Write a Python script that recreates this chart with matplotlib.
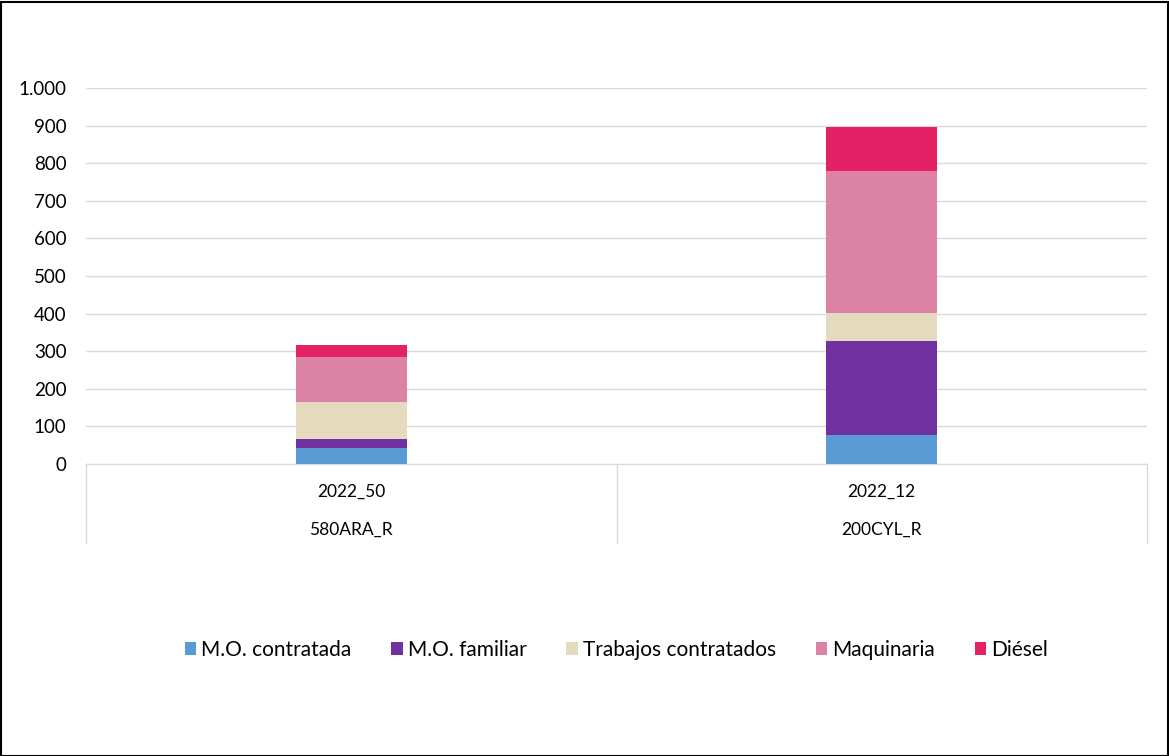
import matplotlib
matplotlib.use('Agg')
import matplotlib.pyplot as plt
from matplotlib.ticker import FuncFormatter
from matplotlib.patches import Rectangle
import numpy as np

plt.rcParams['font.family'] = ['Lato', 'DejaVu Sans']

years = ["2022_50", "2022_12"]
farms = ["580ARA_R", "200CYL_R"]
series = ["M.O. contratada", "M.O. familiar", "Trabajos contratados", "Maquinaria", "Diésel"]
colors = ["#5b9bd5", "#7030a0", "#e4dabd", "#dc82a4", "#e52166"]
mo_contratada = [42, 77]
mo_familiar = [24, 250]
trabajos = [100, 75]
maquinaria = [119, 377]
diesel = [31, 116]

values = [mo_contratada, mo_familiar, trabajos, maquinaria, diesel]

fig = plt.figure(figsize=(11.69, 7.56), dpi=100)
ax = fig.add_axes([86 / 1169, 1 - 464 / 756, (1147 - 86) / 1169, (464 - 88) / 756])

x = np.arange(len(farms))
bottom = np.zeros(len(farms))
for name, vals, c in zip(series, values, colors):
    ax.bar(x, vals, 0.21, bottom=bottom, color=c, label=name, zorder=3)
    bottom += np.array(vals)

ax.set_xlim(-0.5, 1.5)
ax.set_ylim(0, 1000)
ax.set_yticks(range(0, 1001, 100))
ax.yaxis.set_major_formatter(FuncFormatter(lambda v, p: f"{int(v):,}".replace(",", ".")))
ax.grid(axis='y', color='#d9d9d9', linewidth=1, zorder=0)
for s in ['top', 'right', 'left']:
    ax.spines[s].set_visible(False)
ax.spines['bottom'].set_color('#d9d9d9')
ax.tick_params(axis='y', length=0, pad=14, labelsize=13.5)
ax.tick_params(axis='x', length=0)
ax.set_xticks([])

# category label rows below axis
for i in range(len(farms)):
    ax.text(i, -75, years[i], ha='center', va='center', fontsize=12.5)
    ax.text(i, -175, farms[i], ha='center', va='center', fontsize=12.5)
for xs in [-0.5, 0.5, 1.5]:
    ax.plot([xs, xs], [0, -210], color='#d9d9d9', linewidth=1, clip_on=False)

ax.legend(loc='center', bbox_to_anchor=(0.5, 1 - (650 - 88) / (464 - 88)),
          ncol=5, frameon=False, fontsize=15, handlelength=0.55, handleheight=0.55,
          handletextpad=0.25, columnspacing=1.9)

fig.patches.append(Rectangle((0.001, 0.0), 0.998, 0.997, transform=fig.transFigure,
                             fill=False, edgecolor='black', linewidth=1.5))

fig.savefig("out.png", dpi=100)
